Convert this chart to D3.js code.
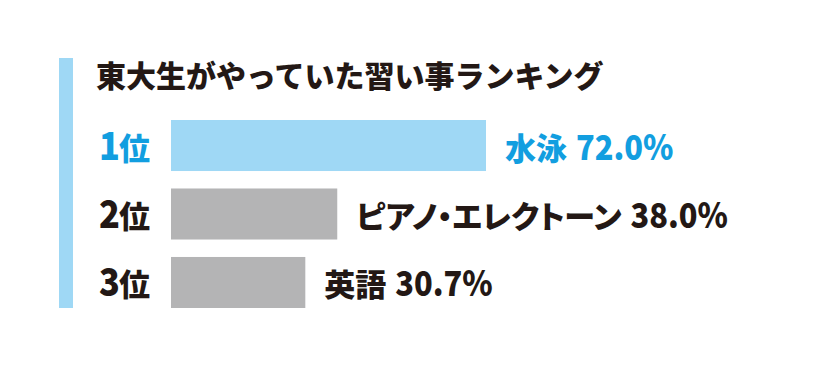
<!DOCTYPE html>
<html>
<head>
<meta charset="utf-8">
<script src="https://cdn.jsdelivr.net/npm/d3@7"></script>
<style>
  html, body { margin: 0; padding: 0; background: #ffffff; }
  svg { display: block; }
  .palt { font-feature-settings: "palt" 1; }
</style>
</head>
<body>
<svg id="chart" width="840" height="369"></svg>
<script>
const title = "東大生がやっていた習い事ランキング";
const ranks = ["1", "2", "3"];
const rankSuffix = "位";
const lessons = ["水泳", "ピアノ・エレクトーン", "英語"];
const percents = [72.0, 38.0, 30.7];
const highlight = [true, false, false];

const COLOR_LIGHT_BLUE = "#9fd8f5";
const COLOR_BLUE_TEXT = "#129ee0";
const COLOR_GREY = "#b4b4b5";
const COLOR_DARK = "#231815";
const CJK = "'Noto Sans CJK JP', 'Noto Sans CJK SC', sans-serif";
const NUM = "'Noto Sans CJK JP', 'Noto Sans CJK SC', sans-serif";
const NUM_SCALE = 0.88;

const svg = d3.select("#chart");

const data = ranks.map((r, i) => ({ rank: r, name: lessons[i], value: percents[i], hi: highlight[i] }));

const x = d3.scaleLinear().domain([0, 100]).range([0, 437.5]);
const barLeft = 171;
const y = d3.scaleBand().domain(ranks).range([120, 308]).paddingInner(0.255);

// left accent bar
svg.append("rect")
  .attr("x", 59).attr("y", 58)
  .attr("width", 14).attr("height", 250)
  .attr("fill", COLOR_LIGHT_BLUE);

// title
svg.append("text")
  .attr("x", 96).attr("y", 87)
  .attr("font-family", CJK)
  .attr("font-weight", 900)
  .attr("font-size", 30)
  .attr("fill", COLOR_DARK)
  .text(title);

const rows = svg.selectAll("g.row").data(data).join("g").attr("class", "row");

rows.append("rect")
  .attr("x", barLeft)
  .attr("y", d => y(d.rank))
  .attr("width", d => x(d.value))
  .attr("height", y.bandwidth())
  .attr("fill", d => d.hi ? COLOR_LIGHT_BLUE : COLOR_GREY);

// rank labels
rows.each(function(d) {
  const g = d3.select(this).append("g")
    .attr("transform", `translate(99,${y(d.rank) + y.bandwidth() / 2 + 14})`)
    .attr("fill", d.hi ? COLOR_BLUE_TEXT : COLOR_DARK)
    .attr("font-weight", 900);
  const num = g.append("text")
    .attr("font-family", NUM).attr("font-size", 39)
    .attr("transform", `scale(${NUM_SCALE},1)`)
    .text(d.rank);
  const w = num.node().getComputedTextLength() * NUM_SCALE;
  g.append("text")
    .attr("x", w - 1)
    .attr("font-family", CJK).attr("font-size", 31)
    .text(rankSuffix);
});

// value labels
rows.each(function(d) {
  const g = d3.select(this).append("g")
    .attr("transform", `translate(${barLeft + x(d.value) + 19},${y(d.rank) + y.bandwidth() / 2 + 14})`)
    .attr("fill", d.hi ? COLOR_BLUE_TEXT : COLOR_DARK)
    .attr("font-weight", 900);
  const name = g.append("text")
    .attr("class", "palt")
    .attr("font-family", CJK).attr("font-size", 31)
    .text(d.name);
  const w = name.node().getComputedTextLength();
  g.append("text")
    .attr("transform", `translate(${w + 9},0) scale(${NUM_SCALE},1)`)
    .attr("font-family", NUM).attr("font-size", 35)
    .text(d.value.toFixed(1) + "%");
});
</script>
</body>
</html>
